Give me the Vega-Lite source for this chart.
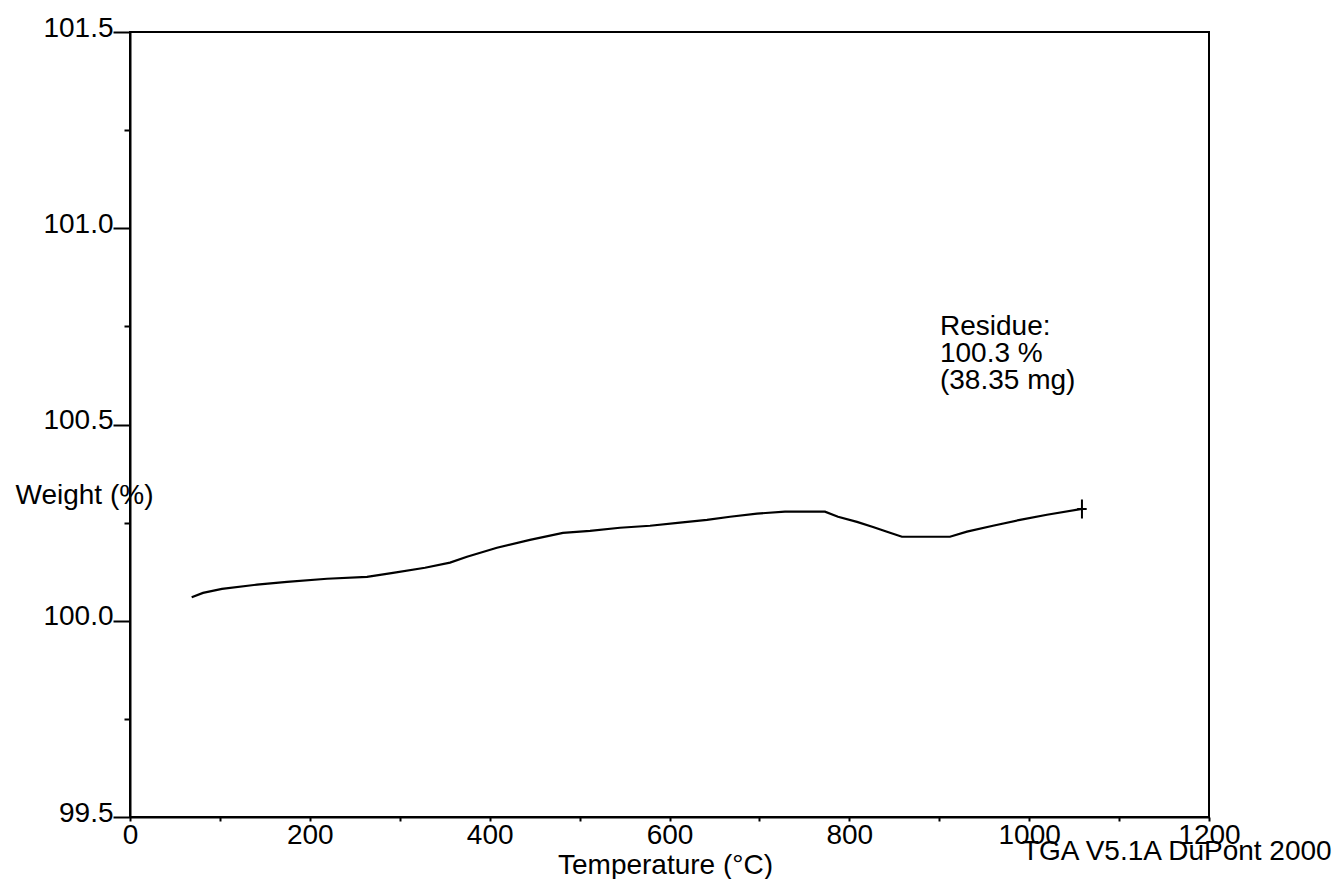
{
  "$schema": "https://vega.github.io/schema/vega-lite/v6.json",
  "width": 1079,
  "height": 785,
  "autosize": "none",
  "padding": {"left": 130, "top": 32, "right": 129, "bottom": 62},
  "background": "white",
  "datasets": {
    "tga": [
      {"temp": 68.6, "weight": 100.060},
      {"temp": 81.2, "weight": 100.071},
      {"temp": 102.3, "weight": 100.081},
      {"temp": 141.2, "weight": 100.092},
      {"temp": 174.6, "weight": 100.099},
      {"temp": 219.1, "weight": 100.107},
      {"temp": 263.6, "weight": 100.112},
      {"temp": 292.5, "weight": 100.122},
      {"temp": 328.1, "weight": 100.135},
      {"temp": 355.9, "weight": 100.148},
      {"temp": 374.8, "weight": 100.163},
      {"temp": 408.1, "weight": 100.186},
      {"temp": 444.8, "weight": 100.206},
      {"temp": 481.5, "weight": 100.224},
      {"temp": 511.6, "weight": 100.229},
      {"temp": 544.9, "weight": 100.237},
      {"temp": 578.3, "weight": 100.242},
      {"temp": 611.7, "weight": 100.250},
      {"temp": 641.7, "weight": 100.257},
      {"temp": 667.3, "weight": 100.265},
      {"temp": 697.3, "weight": 100.273},
      {"temp": 728.4, "weight": 100.278},
      {"temp": 772.9, "weight": 100.278},
      {"temp": 787.4, "weight": 100.265},
      {"temp": 808.5, "weight": 100.252},
      {"temp": 826.3, "weight": 100.239},
      {"temp": 845.2, "weight": 100.224},
      {"temp": 858.5, "weight": 100.214},
      {"temp": 911.9, "weight": 100.214},
      {"temp": 930.8, "weight": 100.227},
      {"temp": 959.7, "weight": 100.242},
      {"temp": 989.8, "weight": 100.257},
      {"temp": 1019.8, "weight": 100.270},
      {"temp": 1058.7, "weight": 100.285}
    ],
    "end": [{"temp": 1058.7, "weight": 100.285}],
    "notes": [
      {"temp": 900.8, "weight": 100.729, "label": "Residue:\n100.3 %\n(38.35 mg)"},
      {"temp": 991.9, "weight": 99.391, "label": "TGA V5.1A DuPont 2000"}
    ]
  },
  "encoding": {
    "x": {
      "field": "temp",
      "type": "quantitative",
      "title": "Temperature (°C)",
      "scale": {"domain": [0, 1200], "nice": false, "zero": false},
      "axis": {
        "values": [0, 100, 200, 300, 400, 500, 600, 700, 800, 900, 1000, 1100, 1200],
        "labelExpr": "datum.value % 200 == 0 ? datum.label : ''",
        "format": "d",
        "tickSize": 4,
        "labelFlush": false,
        "labelBaseline": "alphabetic",
        "labelPadding": 22,
        "labelOverlap": false,
        "titleBaseline": "alphabetic",
        "titleY": 56,
        "titleX": 535
      }
    },
    "y": {
      "field": "weight",
      "type": "quantitative",
      "title": "Weight (%)",
      "scale": {"domain": [99.5, 101.5], "nice": false, "zero": false},
      "axis": {
        "values": [99.5, 99.75, 100, 100.25, 100.5, 100.75, 101, 101.25, 101.5],
        "labelExpr": "(datum.value * 4) % 2 == 0 ? format(datum.value, '.1f') : ''",
        "tickSize": {"condition": {"test": "(datum.value * 4) % 2 == 0", "value": 17}, "value": 6},
        "labelPadding": 0,
        "labelFlush": false,
        "labelBaseline": "alphabetic",
        "labelOffset": 4,
        "labelOverlap": false,
        "titleAngle": 0,
        "titleAlign": "left",
        "titleBaseline": "alphabetic",
        "titleX": -115,
        "titleY": 471
      }
    }
  },
  "layer": [
    {
      "data": {"name": "tga"},
      "mark": {"type": "line", "color": "black", "strokeWidth": 2.2, "clip": false}
    },
    {
      "data": {"name": "end"},
      "mark": {
        "type": "point",
        "shape": "M-0.5,0H0.5M0,-1V1",
        "size": 361,
        "filled": false,
        "stroke": "black",
        "strokeWidth": 2,
        "opacity": 1
      }
    },
    {
      "data": {"name": "notes"},
      "mark": {
        "type": "text",
        "align": "left",
        "baseline": "alphabetic",
        "lineBreak": "\n",
        "lineHeight": 27,
        "fontSize": 28,
        "font": "Liberation Sans",
        "color": "black",
        "clip": false
      },
      "encoding": {"text": {"field": "label"}}
    }
  ],
  "config": {
    "view": {"stroke": "black", "strokeWidth": 2},
    "axis": {
      "grid": false,
      "domainColor": "black",
      "domainWidth": 2,
      "tickColor": "black",
      "tickWidth": 2,
      "labelColor": "black",
      "labelFont": "Liberation Sans",
      "labelFontSize": 28,
      "titleColor": "black",
      "titleFont": "Liberation Sans",
      "titleFontSize": 28,
      "titleFontWeight": "normal"
    }
  }
}
